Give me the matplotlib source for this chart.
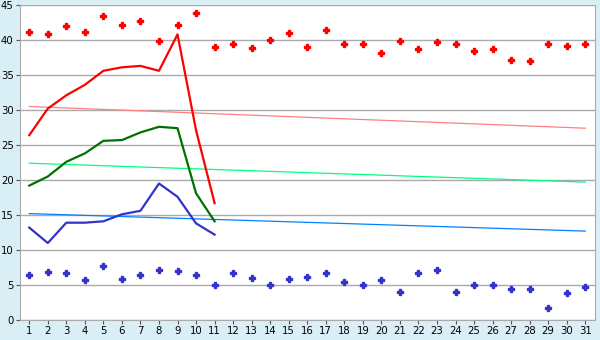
import numpy as np
import matplotlib
matplotlib.use("Agg")
import matplotlib.pyplot as plt

days = list(range(1, 32))

# daily max (red) and min (blue) points
max_pts = [41.1, 40.8, 42.0, 41.1, 43.5, 42.1, 42.7, 39.8, 42.2, 43.8,
           39.0, 39.5, 38.8, 40.0, 41.0, 39.0, 41.4, 39.4, 39.4, 38.1,
           39.8, 38.7, 39.7, 39.5, 38.4, 38.7, 37.1, 37.0, 39.4, 39.2, 39.4]
min_pts = [6.4, 6.8, 6.7, 5.7, 7.7, 5.8, 6.4, 7.1, 7.0, 6.5,
           4.95, 6.7, 6.0, 4.95, 5.8, 6.1, 6.7, 5.5, 4.95, 5.7,
           4.0, 6.7, 7.2, 4.0, 4.95, 4.95, 4.4, 4.4, 1.7, 3.8, 4.7]

# current month lines (days 1-11)
cur_days = list(range(1, 12))
cur_max = [26.4, 30.2, 32.1, 33.6, 35.6, 36.1, 36.3, 35.6, 40.8, 27.1, 16.7]
cur_mean = [19.2, 20.5, 22.6, 23.8, 25.6, 25.7, 26.8, 27.6, 27.4, 18.1, 14.1]
cur_min = [13.2, 11.0, 13.9, 13.9, 14.1, 15.1, 15.6, 19.5, 17.6, 13.8, 12.2]

# normals (start / end of month)
norm_days = [1, 31]
norm_max = [30.5, 27.4]
norm_mean = [22.4, 19.7]
norm_min = [15.2, 12.7]

bg = "#d9eef5"
fig = plt.figure(figsize=(6, 3.4), dpi=100, facecolor=bg)
ax = fig.add_axes([20 / 600, 20 / 340, 574.5 / 600, 315 / 340])
ax.set_facecolor("white")

ax.plot(norm_days, norm_max, color="#ff8080", lw=0.9, zorder=2)
ax.plot(norm_days, norm_mean, color="#00ff80", lw=0.9, zorder=2)
ax.plot(norm_days, norm_min, color="#0080ff", lw=0.9, zorder=2)

ax.plot(cur_days, cur_max, color="#ff0000", lw=1.6, zorder=3)
ax.plot(cur_days, cur_mean, color="#007000", lw=1.6, zorder=3)
ax.plot(cur_days, cur_min, color="#3333cc", lw=1.6, zorder=3)

ax.plot(days, max_pts, ls="none", marker="P", ms=3.8, color="#ff0000",
        mec="#ff0000", zorder=4)
ax.plot(days, min_pts, ls="none", marker="P", ms=3.8, color="#3333cc",
        mec="#3333cc", zorder=4)

ax.set_xlim(0.5, 31.5)
ax.set_ylim(0, 45)
ax.set_xticks(days)
ax.set_yticks(range(0, 46, 5))
ax.yaxis.grid(True, color="#aaaaaa", lw=1)
ax.set_axisbelow(True)
for s in ax.spines.values():
    s.set_color("#aaaaaa")
ax.spines["top"].set_visible(False)
ax.tick_params(axis="both", labelsize=7.3, color="#555555", length=3, pad=1.5)

fig.savefig("out.png", dpi=100, facecolor=bg)
